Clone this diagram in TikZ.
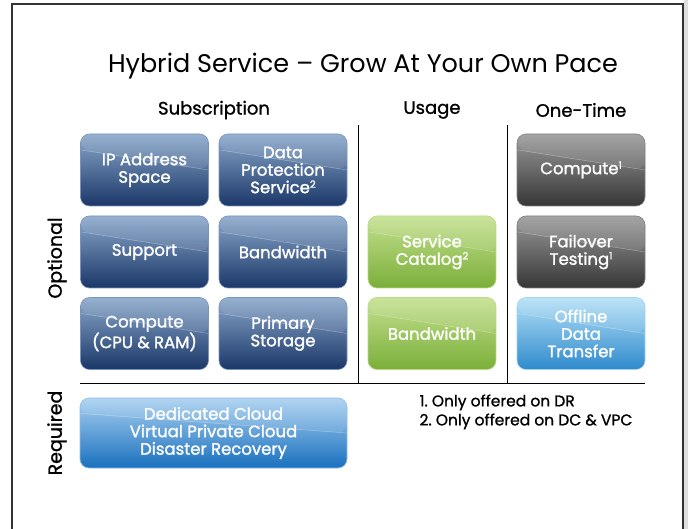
\documentclass[tikz,border=0pt]{standalone}
\usepackage{fontspec}
\setmainfont{Poppins}
\newfontfamily\medfam{Poppins}[FakeBold=1.1]
\newfontfamily\tilefam{Poppins}[FakeBold=1.5]
\usetikzlibrary{calc}
\usetikzlibrary{positioning}

\definecolor{subtop}{HTML}{8AA7CB}
\definecolor{submid}{HTML}{284A7E}
\definecolor{subbot}{HTML}{1A3768}
\definecolor{usetop}{HTML}{C4E08F}
\definecolor{usemid}{HTML}{8FC24C}
\definecolor{usebot}{HTML}{7AAF39}
\definecolor{onetop}{HTML}{9A9A9A}
\definecolor{onemid}{HTML}{444444}
\definecolor{onebot}{HTML}{363636}
\definecolor{xfertop}{HTML}{B4E0F6}
\definecolor{xfermid}{HTML}{55A6DE}
\definecolor{xferbot}{HTML}{2F8ACD}
\definecolor{reqtop}{HTML}{A8D0F0}
\definecolor{reqmid}{HTML}{2A82CE}
\definecolor{reqbot}{HTML}{1A70BE}
\definecolor{framegray}{HTML}{333333}

\newcommand{\tilefont}{\tilefam\fontsize{16.5}{17.5}\selectfont}
\newcommand{\fnmark}[1]{\raisebox{0.6ex}{\fontsize{10}{10}\selectfont #1}}

\begin{document}
\begin{tikzpicture}[x=1pt, y=-1pt,
tile/.style={rounded corners=9pt, minimum width=128pt, minimum height=72pt,
  inner sep=2pt, align=center, text=white, font=\tilefont, line width=0.6pt,
  path picture={
    \fill[white, opacity=0.10] (path picture bounding box.north west)
      -- ($(path picture bounding box.north west)!0.22!(path picture bounding box.south west)$)
      -- ($(path picture bounding box.north east)!0.50!(path picture bounding box.south east)$)
      -- (path picture bounding box.north east) -- cycle;
    \draw[white, opacity=0.35, line width=0.5pt]
      ($(path picture bounding box.north west)!0.22!(path picture bounding box.south west)$)
      -- ($(path picture bounding box.north east)!0.50!(path picture bounding box.south east)$);
  }},
subtile/.style={tile, draw=subtop!80!submid, top color=subtop, middle color=submid, bottom color=subbot},
usetile/.style={tile, draw=usetop!80!usemid, top color=usetop, middle color=usemid, bottom color=usebot},
onetile/.style={tile, draw=onetop!70!onemid, top color=onetop, middle color=onemid, bottom color=onebot},
xfertile/.style={tile, draw=xfertop!80!xfermid, top color=xfertop, middle color=xfermid, bottom color=xferbot},
reqtile/.style={tile, minimum width=267pt, minimum height=70pt, draw=reqtop!80!reqmid, top color=reqtop, middle color=reqmid, bottom color=reqbot},
heading/.style={font=\medfam\fontsize{18}{20}\selectfont, text=black},
sidelabel/.style={rotate=90, font=\medfam\fontsize{19}{20}\selectfont, text=black},
rule/.style={draw=black, line width=1pt}]

    \useasboundingbox (0,0) rectangle (688,529);
    \fill[gray!25] (684,0) rectangle (688,529);
    \draw[framegray, line width=1.5pt] (12,545) -- (12,4) -- (683,4) -- (683,545);

    % title and column heads
    \node[font=\fontsize{25.5}{28}\selectfont] (title) at (363,66) {Hybrid Service -- Grow At Your Own Pace};
    \node[heading] (subhead) at (214,110) {Subscription};
    \node[heading] (usehead) at (432,110) {Usage};
    \node[heading] (onehead) at (581,110) {One-Time};

    \node[sidelabel] (optional) at (57,258) {Optional};
    \node[sidelabel] (required) at (57,433) {Required};

    % subscription
    \node[subtile] (ipaddr) at (144.5,170) {IP Address\\Space};
    \node[subtile] (dataprot) at (283,170) {Data\\Protection\\Service\fnmark{2}};
    \node[subtile] (support) at (144.5,252) {Support};
    \node[subtile] (bwsub) at (283,252) {Bandwidth};
    \node[subtile] (compute) at (144.5,333.5) {Compute\\(CPU \& RAM)};
    \node[subtile] (storage) at (283,333.5) {Primary\\Storage};

    % usage
    \node[usetile] (catalog) at (432,252) {Service\\Catalog\fnmark{2}};
    \node[usetile] (bwuse) at (432,333.5) {Bandwidth};

    % one-time
    \node[onetile] (computeot) at (581,170) {Compute\fnmark{1}};
    \node[onetile] (failover) at (581,252) {Failover\\Testing\fnmark{1}};
    \node[xfertile] (offline) at (581,333.5) {Offline\\Data\\Transfer};

    % separators
    \coordinate (sepleft) at (80,383);
    \coordinate (sepright) at (645,383);
    \draw[rule] (sepleft) -- (sepright);
    \draw[rule] (358,125) -- (358,383);
    \draw[rule] (507,125) -- (507,383);

    % required
    \node[reqtile] (base) at (213.5,433) {Dedicated Cloud\\Virtual Private Cloud\\Disaster Recovery};

    \node[anchor=north west, align=left, font=\medfam\fontsize{15.5}{19}\selectfont] (notes) at (416,391)
      {1.\ Only offered on DR\\2.\ Only offered on DC \& VPC};

\end{tikzpicture}
\end{document}
